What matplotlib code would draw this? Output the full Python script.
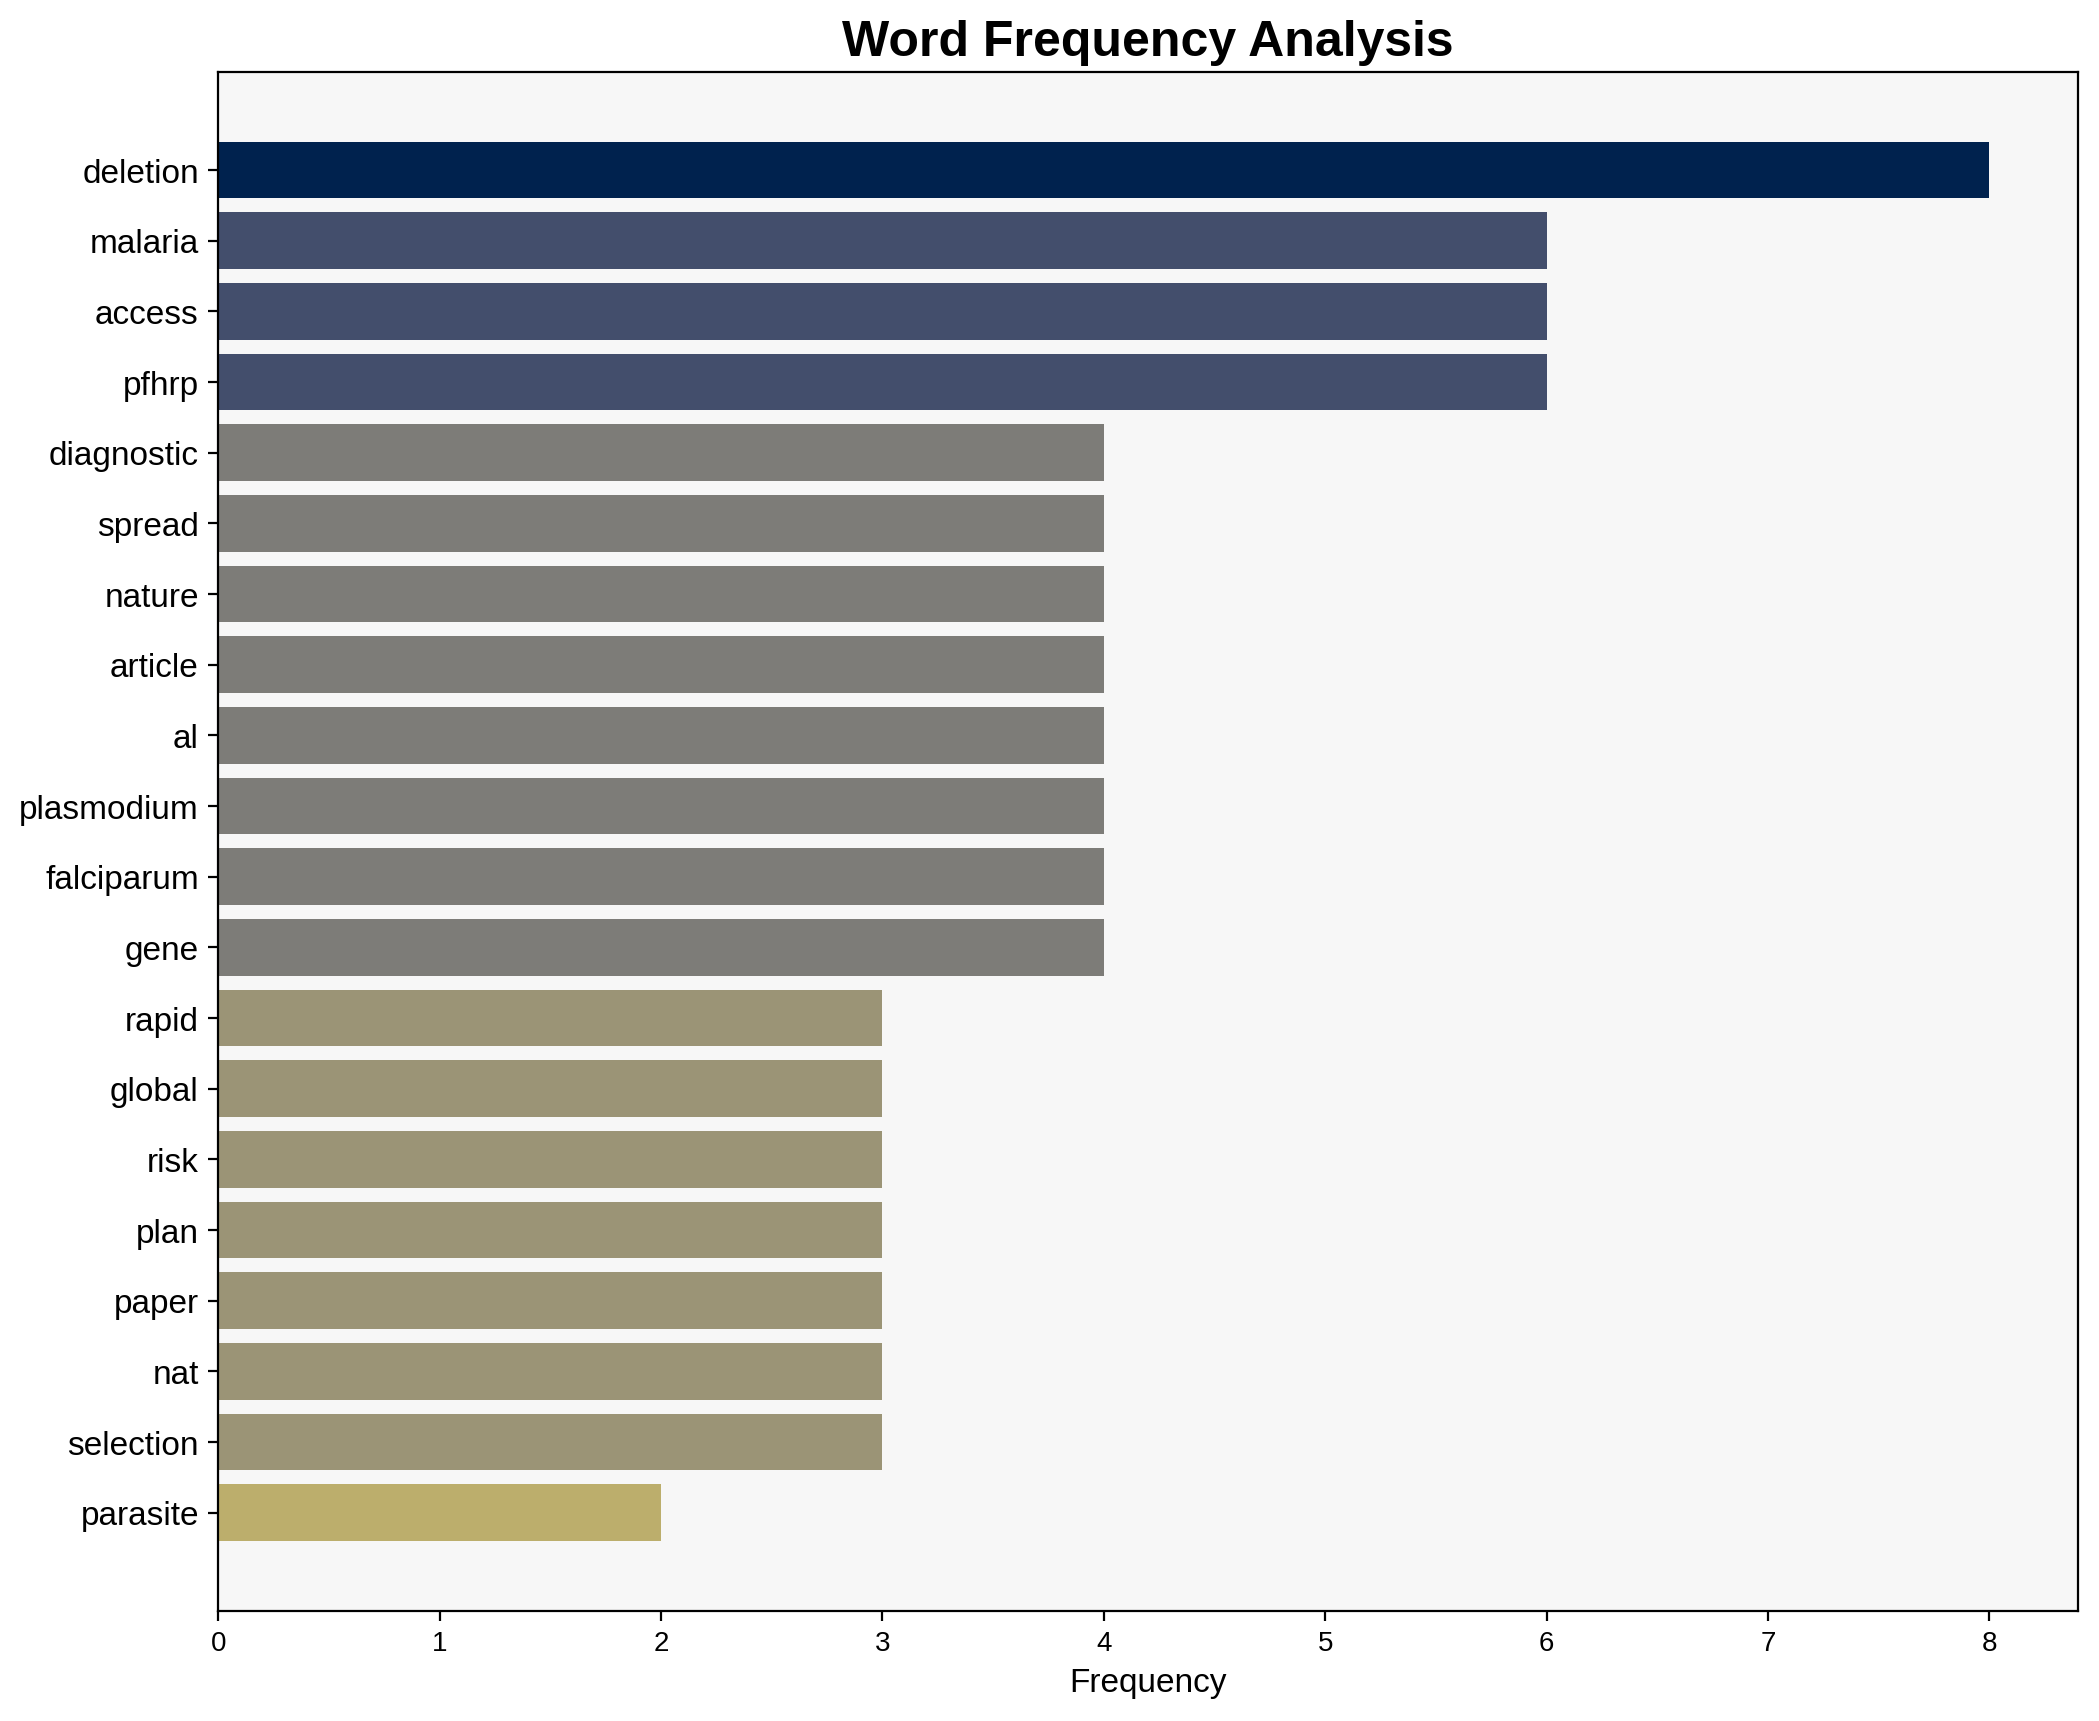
import matplotlib
matplotlib.use("Agg")
import matplotlib.pyplot as plt
import numpy as np

plt.rcParams["font.family"] = ["Liberation Sans", "DejaVu Sans"]

words = ["deletion", "malaria", "access", "pfhrp", "diagnostic", "spread", "nature",
         "article", "al", "plasmodium", "falciparum", "gene", "rapid", "global", "risk",
         "plan", "paper", "nat", "selection", "parasite"]
freqs = [8, 6, 6, 6, 4, 4, 4, 4, 4, 4, 4, 4, 3, 3, 3, 3, 3, 3, 3, 2]

fig, ax = plt.subplots(figsize=(10.495, 8.608), dpi=200)
ax.set_facecolor("#f7f7f7")

vals = np.array(freqs, dtype=float)
colors = plt.cm.cividis(1 - vals / vals.max())
y = np.arange(len(words))
ax.barh(y, vals, color=colors, height=0.8)
ax.set_yticks(y)
ax.set_yticklabels(words, fontsize=12)
ax.invert_yaxis()
ax.tick_params(axis="x", labelsize=10)
ax.set_xlabel("Frequency", fontsize=12)
ax.set_title("Word Frequency Analysis", fontsize=18, fontweight="bold")

fig.subplots_adjust(left=0.104, right=0.99, top=0.958, bottom=0.064)
fig.savefig("out.png", dpi=200)
